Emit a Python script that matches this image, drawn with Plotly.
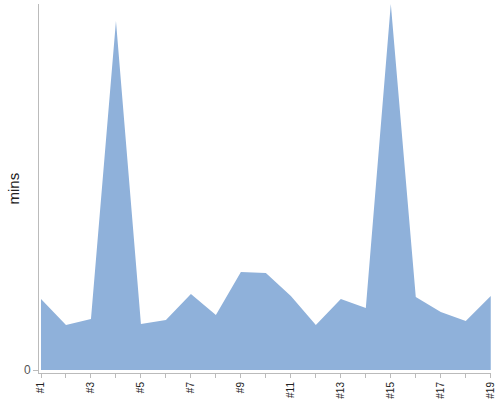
import plotly.graph_objects as go

# Categories and values (minutes)
categories = [f"#{i}" for i in range(1, 20)]
values = [7.1, 4.5, 5.1, 34.9, 4.6, 5.0, 7.6, 5.5, 9.8, 9.7,
          7.4, 4.5, 7.1, 6.2, 36.6, 7.3, 5.8, 4.9, 7.4]
tick_labels = [c if i % 2 == 0 else "" for i, c in enumerate(categories)]
y_title = "mins"

fig = go.Figure()

fig.add_trace(go.Scatter(
    x=categories,
    y=values,
    mode="lines",
    fill="tozeroy",
    fillcolor="#8fb1da",
    line=dict(color="#8fb1da", width=0),
    hoverinfo="x+y",
))

fig.update_layout(
    width=500,
    height=400,
    margin=dict(l=39, r=9, t=4, b=27, autoexpand=False),
    plot_bgcolor="white",
    paper_bgcolor="white",
    showlegend=False,
    font=dict(family="Arial, Liberation Sans, sans-serif"),
    xaxis=dict(
        type="category",
        range=[-0.08, 18.01],
        automargin=False,
        tickmode="array",
        tickvals=categories,
        ticktext=tick_labels,
        tickangle=-90,
        ticklabeloverflow="allow",
        ticks="outside",
        ticklen=4,
        tickcolor="#bbbbbb",
        tickfont=dict(size=10, color="#222222"),
        showline=True,
        linecolor="#bbbbbb",
        linewidth=1,
        showgrid=False,
        zeroline=False,
    ),
    yaxis=dict(
        range=[-0.3, 36.6],
        automargin=False,
        tickmode="array",
        tickvals=[0],
        ticktext=["0"],
        ticks="outside",
        ticklen=5,
        tickcolor="#bbbbbb",
        tickfont=dict(size=12, color="#555555"),
        showline=True,
        linecolor="#bbbbbb",
        linewidth=1,
        showgrid=False,
        zeroline=False,
    ),
)

# axis title placed by hand so it sits where the reference has it
fig.add_annotation(
    text=y_title,
    xref="paper", yref="paper",
    x=-0.0575, y=0.5,
    xanchor="center", yanchor="middle",
    textangle=-90,
    showarrow=False,
    font=dict(size=15, color="#222222"),
)

# the page's body has an 8px default margin; drop it so the figure sits at 0,0
fig.write_html(
    "out.html",
    config={"displayModeBar": False},
    post_script="document.body.style.margin='0';",
)
